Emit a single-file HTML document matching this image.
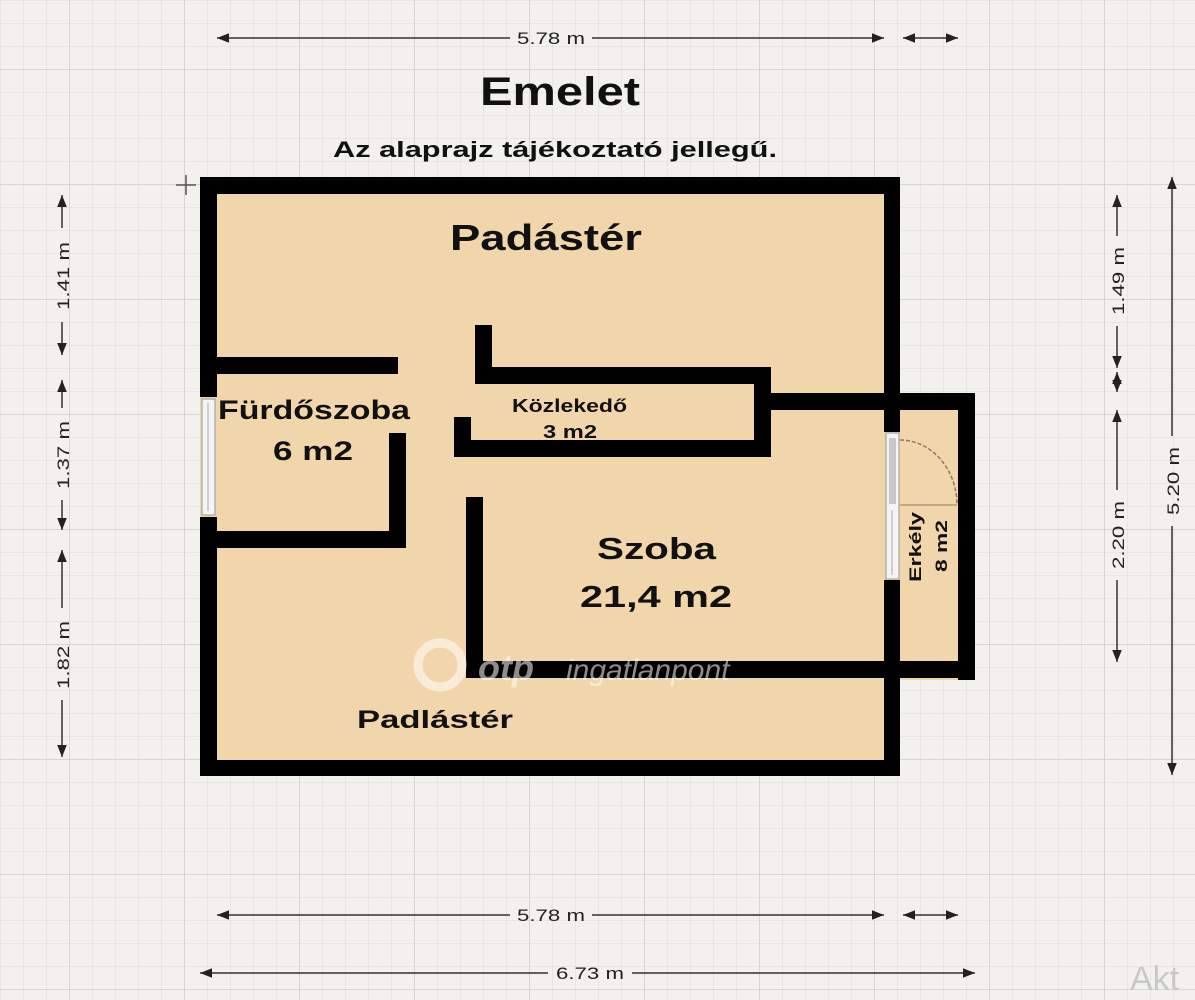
<!DOCTYPE html>
<html><head><meta charset="utf-8"><style>
html,body{margin:0;padding:0;background:#f2f1ee;}
svg{display:block;font-family:"Liberation Sans",sans-serif;}
</style></head><body>
<svg width="1195" height="1000" viewBox="0 0 1195 1000" xmlns="http://www.w3.org/2000/svg">
<defs>
<pattern id="minor" x="1" y="1" width="23" height="23" patternUnits="userSpaceOnUse">
<path d="M23 0V23M0 23H23" stroke="#dddcd8" stroke-width="1" fill="none"/>
</pattern>
<pattern id="major" x="-45" y="-45" width="115" height="115" patternUnits="userSpaceOnUse">
<path d="M115 0V115M0 115H115" stroke="#cfcecb" stroke-width="1.5" fill="none"/>
</pattern>
<marker id="ar" viewBox="0 0 10 10" refX="10" refY="5" markerWidth="8" markerHeight="8" orient="auto-start-reverse">
<path d="M0 1L10 5L0 9Z" fill="#222"/>
</marker>
</defs>
<rect width="1195" height="1000" fill="#f2f1ee"/>
<rect width="1195" height="1000" fill="url(#minor)"/>
<rect width="1195" height="1000" fill="url(#major)"/>

<rect x="200" y="177" width="700" height="599" fill="#f1d6ac"/>
<rect x="884" y="393" width="91" height="287" fill="#f1d6ac"/>

<g fill="#000">
<rect x="200" y="177" width="700" height="17"/>
<rect x="200" y="177" width="17" height="220"/>
<rect x="200" y="517" width="17" height="259"/>
<rect x="200" y="760" width="700" height="16"/>
<rect x="884" y="177" width="16" height="255"/>
<rect x="884" y="580" width="16" height="196"/>
<rect x="771" y="393" width="204" height="17"/>
<rect x="958" y="393" width="17" height="287"/>
<rect x="466" y="661" width="509" height="17"/>
<rect x="200" y="357" width="198" height="17"/>
<rect x="389" y="433" width="17" height="115"/>
<rect x="200" y="531" width="206" height="17"/>
<rect x="475" y="325" width="17" height="59"/>
<rect x="475" y="367" width="296" height="17"/>
<rect x="754" y="367" width="17" height="90"/>
<rect x="454" y="440" width="317" height="17"/>
<rect x="454" y="417" width="17" height="40"/>
<rect x="466" y="497" width="17" height="181"/>
</g>
<rect x="202" y="399" width="13" height="116" fill="#f4f4f4" stroke="#999" stroke-width="1"/>
<line x1="208" y1="403" x2="208" y2="511" stroke="#aaa"/>
<rect x="886" y="433" width="13" height="146" fill="#f4f4f4" stroke="#999" stroke-width="1"/>
<rect x="889" y="438" width="7" height="66" fill="#c8c8c8"/>
<line x1="892" y1="510" x2="892" y2="575" stroke="#aaa"/>
<path d="M900 440 A57 65 0 0 1 957 505" fill="none" stroke="#8a7a60" stroke-width="1.5" stroke-dasharray="4 2"/>
<line x1="900" y1="505" x2="957" y2="505" stroke="#8a7a60" stroke-width="1"/>

<g fill="#111" font-weight="bold" lengthAdjust="spacingAndGlyphs">
<text x="480" y="105" font-size="40" textLength="160" lengthAdjust="spacingAndGlyphs">Emelet</text>
<text x="333" y="157" font-size="22" textLength="444" lengthAdjust="spacingAndGlyphs">Az alaprajz tájékoztató jellegű.</text>
<text x="450" y="250" font-size="36" textLength="192" lengthAdjust="spacingAndGlyphs">Padástér</text>
<text x="218" y="419" font-size="27" textLength="192" lengthAdjust="spacingAndGlyphs">Fürdőszoba</text>
<text x="273" y="460" font-size="27" textLength="80" lengthAdjust="spacingAndGlyphs">6 m2</text>
<text x="512" y="412" font-size="18" textLength="115" lengthAdjust="spacingAndGlyphs">Közlekedő</text>
<text x="543" y="438" font-size="18" textLength="54" lengthAdjust="spacingAndGlyphs">3 m2</text>
<text x="597" y="559" font-size="31" textLength="119" lengthAdjust="spacingAndGlyphs">Szoba</text>
<text x="580" y="607" font-size="31" textLength="152" lengthAdjust="spacingAndGlyphs">21,4 m2</text>
<text x="357" y="728" font-size="25" textLength="156" lengthAdjust="spacingAndGlyphs">Padlástér</text>
<text transform="translate(921,582) rotate(-90)" font-size="17" textLength="70" lengthAdjust="spacingAndGlyphs">Erkély</text>
<text transform="translate(947,572) rotate(-90)" font-size="17" textLength="52" lengthAdjust="spacingAndGlyphs">8 m2</text>
</g>
<g opacity="0.55" fill="#fff">
<circle cx="440" cy="665" r="22" fill="none" stroke="#fff" stroke-width="9"/>
<text x="478" y="680" font-size="36" font-weight="bold" font-style="italic" fill="#fff">otp</text>
<text x="566" y="680" font-size="30" font-style="italic" fill="#fff">ingatlanpont</text>
</g>

<g stroke="#333" stroke-width="1.5" fill="none">
<line x1="217" y1="38" x2="510" y2="38" marker-start="url(#ar)"/>
<line x1="592" y1="38" x2="884" y2="38" marker-end="url(#ar)"/>
<line x1="903" y1="38" x2="958" y2="38" marker-start="url(#ar)" marker-end="url(#ar)"/>
<line x1="217" y1="915" x2="510" y2="915" marker-start="url(#ar)"/>
<line x1="592" y1="915" x2="884" y2="915" marker-end="url(#ar)"/>
<line x1="903" y1="915" x2="958" y2="915" marker-start="url(#ar)" marker-end="url(#ar)"/>
<line x1="200" y1="973" x2="548" y2="973" marker-start="url(#ar)"/>
<line x1="632" y1="973" x2="975" y2="973" marker-end="url(#ar)"/>
<line x1="62" y1="195" x2="62" y2="228" marker-start="url(#ar)"/>
<line x1="62" y1="322" x2="62" y2="355" marker-end="url(#ar)"/>
<line x1="62" y1="380" x2="62" y2="408" marker-start="url(#ar)"/>
<line x1="62" y1="500" x2="62" y2="530" marker-end="url(#ar)"/>
<line x1="62" y1="550" x2="62" y2="608" marker-start="url(#ar)"/>
<line x1="62" y1="700" x2="62" y2="757" marker-end="url(#ar)"/>
<line x1="1117" y1="195" x2="1117" y2="236" marker-start="url(#ar)"/>
<line x1="1117" y1="326" x2="1117" y2="368" marker-end="url(#ar)"/>
<line x1="1117" y1="372" x2="1117" y2="392" marker-start="url(#ar)" marker-end="url(#ar)"/>
<line x1="1117" y1="410" x2="1117" y2="490" marker-start="url(#ar)"/>
<line x1="1117" y1="580" x2="1117" y2="662" marker-end="url(#ar)"/>
<line x1="1172" y1="177" x2="1172" y2="436" marker-start="url(#ar)"/>
<line x1="1172" y1="526" x2="1172" y2="775" marker-end="url(#ar)"/>
<line x1="176" y1="185" x2="196" y2="185" stroke="#555"/>
<line x1="186" y1="175" x2="186" y2="195" stroke="#555"/>
</g>
<g fill="#222" font-size="17">
<text x="517" y="44" textLength="68" lengthAdjust="spacingAndGlyphs">5.78 m</text>
<text x="517" y="921" textLength="68" lengthAdjust="spacingAndGlyphs">5.78 m</text>
<text x="556" y="979" textLength="68" lengthAdjust="spacingAndGlyphs">6.73 m</text>
<text transform="translate(69,310) rotate(-90)" textLength="68" lengthAdjust="spacingAndGlyphs">1.41 m</text>
<text transform="translate(69,489) rotate(-90)" textLength="68" lengthAdjust="spacingAndGlyphs">1.37 m</text>
<text transform="translate(69,689) rotate(-90)" textLength="68" lengthAdjust="spacingAndGlyphs">1.82 m</text>
<text transform="translate(1124,315) rotate(-90)" textLength="68" lengthAdjust="spacingAndGlyphs">1.49 m</text>
<text transform="translate(1124,569) rotate(-90)" textLength="68" lengthAdjust="spacingAndGlyphs">2.20 m</text>
<text transform="translate(1179,515) rotate(-90)" textLength="68" lengthAdjust="spacingAndGlyphs">5.20 m</text>
</g>
<text x="1130" y="990" font-size="34" fill="#c8c8c8">Akt</text>
</svg>
</body></html>
